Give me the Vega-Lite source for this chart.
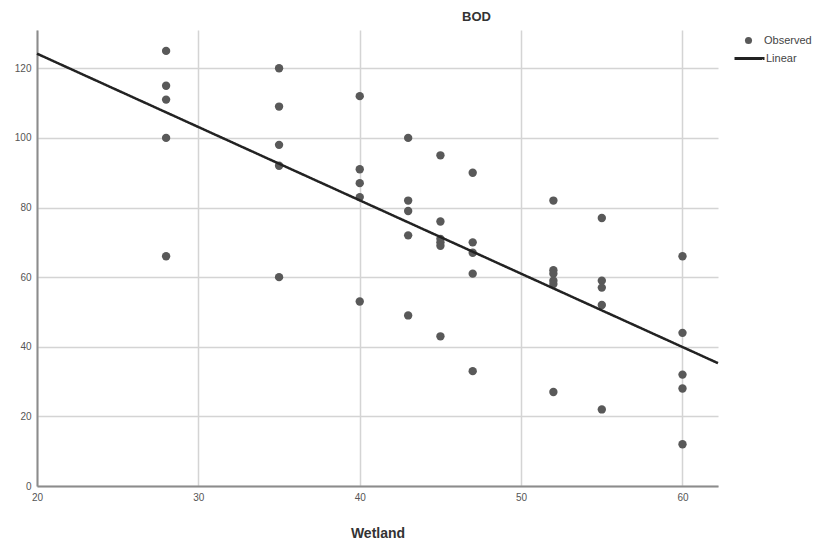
{
  "$schema": "https://vega.github.io/schema/vega-lite/v6.json",
  "width": 681,
  "height": 456,
  "autosize": {"type": "none"},
  "padding": {"left": 37, "top": 30, "right": 110, "bottom": 57},
  "background": "white",
  "title": {"text": "BOD", "font": "Liberation Sans", "fontSize": 13, "fontWeight": "bold", "color": "#333333", "anchor": "middle", "dx": 99, "offset": 6},
  "config": {
    "view": {"stroke": null},
    "axis": {
      "domainColor": "#8c8c8c",
      "domainWidth": 2,
      "ticks": false,
      "gridColor": "#d4d4d4",
      "gridWidth": 1.5,
      "labelColor": "#555555",
      "labelFont": "Liberation Sans",
      "labelFontSize": 10,
      "labelPadding": 6,
      "labelFlush": false
    },
    "legend": {"labelFont": "Liberation Sans", "labelFontSize": 11, "labelColor": "#444444"}
  },
  "data": {
    "values": [
      {"Wetland": 28, "BOD": 125}, {"Wetland": 28, "BOD": 115}, {"Wetland": 28, "BOD": 111}, {"Wetland": 28, "BOD": 100}, {"Wetland": 28, "BOD": 66},
      {"Wetland": 35, "BOD": 120}, {"Wetland": 35, "BOD": 109}, {"Wetland": 35, "BOD": 98}, {"Wetland": 35, "BOD": 92}, {"Wetland": 35, "BOD": 60},
      {"Wetland": 40, "BOD": 112}, {"Wetland": 40, "BOD": 91}, {"Wetland": 40, "BOD": 87}, {"Wetland": 40, "BOD": 83}, {"Wetland": 40, "BOD": 53},
      {"Wetland": 43, "BOD": 100}, {"Wetland": 43, "BOD": 82}, {"Wetland": 43, "BOD": 79}, {"Wetland": 43, "BOD": 72}, {"Wetland": 43, "BOD": 49},
      {"Wetland": 45, "BOD": 95}, {"Wetland": 45, "BOD": 76}, {"Wetland": 45, "BOD": 71}, {"Wetland": 45, "BOD": 70}, {"Wetland": 45, "BOD": 69}, {"Wetland": 45, "BOD": 43},
      {"Wetland": 47, "BOD": 90}, {"Wetland": 47, "BOD": 70}, {"Wetland": 47, "BOD": 67}, {"Wetland": 47, "BOD": 61}, {"Wetland": 47, "BOD": 33},
      {"Wetland": 52, "BOD": 82}, {"Wetland": 52, "BOD": 62}, {"Wetland": 52, "BOD": 61}, {"Wetland": 52, "BOD": 59}, {"Wetland": 52, "BOD": 58}, {"Wetland": 52, "BOD": 27},
      {"Wetland": 55, "BOD": 77}, {"Wetland": 55, "BOD": 59}, {"Wetland": 55, "BOD": 57}, {"Wetland": 55, "BOD": 52}, {"Wetland": 55, "BOD": 22},
      {"Wetland": 60, "BOD": 66}, {"Wetland": 60, "BOD": 44}, {"Wetland": 60, "BOD": 32}, {"Wetland": 60, "BOD": 28}, {"Wetland": 60, "BOD": 12}
    ]
  },
  "layer": [
    {
      "mark": {"type": "circle", "size": 70, "opacity": 1},
      "encoding": {
        "x": {"field": "Wetland", "type": "quantitative", "scale": {"domain": [20, 62.2], "nice": false, "zero": false},
              "axis": {"values": [20, 30, 40, 50, 60], "title": "Wetland", "titleFont": "Liberation Sans", "titleFontSize": 14, "titleFontWeight": "bold", "titleColor": "#333333", "titlePadding": 24}},
        "y": {"field": "BOD", "type": "quantitative", "scale": {"domain": [0, 131], "nice": false},
              "axis": {"values": [0, 20, 40, 60, 80, 100, 120], "title": null}},
        "color": {"datum": "Observed", "scale": {"domain": ["Observed"], "range": ["#595959"]},
                  "legend": {"title": null, "orient": "none", "legendX": 706, "legendY": 5, "symbolType": "circle", "symbolSize": 50, "labelOffset": 10}}
      }
    },
    {
      "transform": [{"regression": "BOD", "on": "Wetland", "extent": [20, 62.2]}],
      "mark": {"type": "line", "color": "#222222", "strokeWidth": 2.5},
      "encoding": {
        "x": {"field": "Wetland", "type": "quantitative"},
        "y": {"field": "BOD", "type": "quantitative"},
        "strokeDash": {"datum": "Linear", "scale": {"domain": ["Linear"], "range": [[1, 0]]},
                       "legend": {"title": null, "orient": "none", "legendX": 696, "legendY": 12, "symbolType": "stroke", "symbolSize": 900, "symbolStrokeWidth": 3, "symbolStrokeColor": "#222222", "labelOffset": 0}}
      }
    }
  ]
}
